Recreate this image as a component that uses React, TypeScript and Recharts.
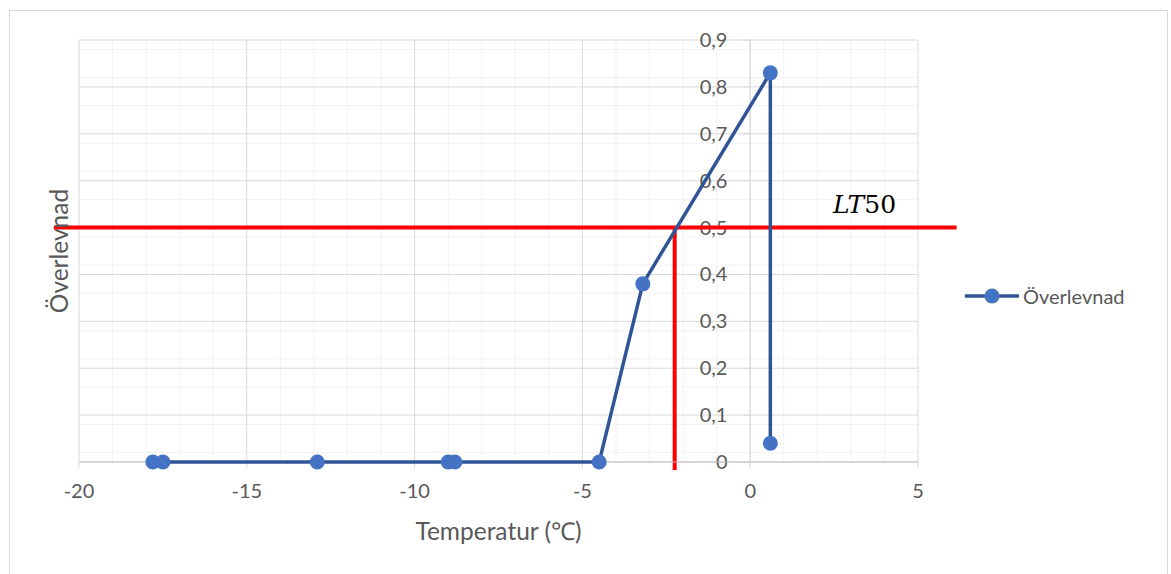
import React from "react";
import {
  CartesianGrid,
  ReferenceLine,
  Scatter,
  ScatterChart,
  XAxis,
  YAxis,
} from "recharts";

// measured values (temperature in °C, survival fraction)
const temperatures = [-17.8, -17.5, -12.9, -9.0, -8.8, -4.5, -3.2, 0.6, 0.6];
const survival = [0, 0, 0, 0, 0, 0, 0.38, 0.83, 0.04];

const xTicks = [-20, -15, -10, -5, 0, 5];
const yTicks = [0, 0.1, 0.2, 0.3, 0.4, 0.5, 0.6, 0.7, 0.8, 0.9];
const xMinor = [-19, -18, -17, -16, -14, -13, -12, -11, -9, -8, -7, -6, -4, -3, -2, -1, 1, 2, 3, 4];
const yMinor = [
  0.02, 0.04, 0.06, 0.08, 0.12, 0.14, 0.16, 0.18, 0.22, 0.24, 0.26, 0.28,
  0.32, 0.34, 0.36, 0.38, 0.42, 0.44, 0.46, 0.48, 0.52, 0.54, 0.56, 0.58,
  0.62, 0.64, 0.66, 0.68, 0.72, 0.74, 0.76, 0.78, 0.82, 0.84, 0.86, 0.88,
];

const lt50Temp = -2.25;
const lt50Level = 0.5;
const lt50LineFrom = -20.75;
const lt50LineTo = 6.15;

const X_MIN = -20;
const X_MAX = 5;
const WIDTH = 1171;
const HEIGHT = 574;
const margin = { top: 40, right: 253, bottom: 72, left: 78 };

const data = temperatures.map((t, i) => ({ temp: t, value: survival[i] }));

const font = "Lato, 'Liberation Sans', sans-serif";
const grey = "#595959";

const fmtY = (v: number) => (v === 0 ? "0" : v.toFixed(1).replace(".", ","));

// the value axis crosses at x = 0: short tick segments with their labels
const tickStub = 0.2;

const YTickLabel = (props: any) => {
  const { viewBox, value } = props;
  return (
    <text
      x={viewBox.x - 16}
      y={viewBox.y}
      dy={7}
      textAnchor="end"
      fill={grey}
      fontSize={20}
      fontFamily={font}
    >
      {value}
    </text>
  );
};

const NoTick = () => <g />;

const YTitle = (props: any) => {
  const { viewBox } = props;
  const cx = viewBox.x - 10;
  const cy = viewBox.y + viewBox.height / 2;
  return (
    <text
      x={cx}
      y={cy}
      transform={`rotate(-90 ${cx} ${cy})`}
      textAnchor="middle"
      fill={grey}
      fontSize={24.5}
      fontFamily={font}
    >
      Överlevnad
    </text>
  );
};

const Dot = (props: any) => (
  <circle cx={props.cx} cy={props.cy} r={7.5} fill="#4472c4" />
);

export default function App() {
  return (
    <div
      style={{
        position: "absolute",
        left: 0,
        top: 0,
        width: WIDTH,
        height: HEIGHT,
        overflow: "hidden",
        background: "#fff",
      }}
    >
      <div
        style={{
          position: "absolute",
          left: 9,
          top: 10,
          width: 1157,
          height: 600,
          border: "1px solid #d9d9d9",
        }}
      />
      <ScatterChart width={WIDTH} height={HEIGHT} margin={margin}>
        <CartesianGrid
          stroke="#f2f2f2"
          strokeWidth={1}
          verticalValues={xMinor}
          horizontalValues={yMinor}
        />
        <CartesianGrid
          stroke="#d9d9d9"
          strokeWidth={1}
          verticalValues={xTicks}
          horizontalValues={yTicks}
        />
        <XAxis
          type="number"
          dataKey="temp"
          domain={[X_MIN, X_MAX]}
          ticks={xTicks}
          height={40}
          axisLine={{ stroke: "#bfbfbf" }}
          tickLine={{ stroke: "#d9d9d9" }}
          tickSize={6}
          tickMargin={16}
          tick={{ fill: grey, fontSize: 20, fontFamily: font }}
          label={{
            value: "Temperatur (℃)",
            position: "bottom",
            offset: 21,
            fill: grey,
            fontSize: 24.5,
            fontFamily: font,
          }}
        />
        <YAxis
          type="number"
          dataKey="value"
          domain={[0, 0.9]}
          ticks={yTicks}
          width={1}
          axisLine={false}
          tickLine={false}
          tick={<NoTick />}
          label={<YTitle />}
        />
        <ReferenceLine x={0} stroke="#d9d9d9" strokeWidth={1} />
        {yTicks.map((v) => (
          <ReferenceLine
            key={v}
            segment={[
              { x: -tickStub, y: v },
              { x: 0, y: v },
            ]}
            stroke="#d9d9d9"
            strokeWidth={1}
            ifOverflow="visible"
            label={<YTickLabel value={fmtY(v)} />}
          />
        ))}
        <Scatter
          data={data}
          line={{ stroke: "#2f5597", strokeWidth: 3.5 }}
          shape={<Dot />}
          isAnimationActive={false}
        />
        <ReferenceLine
          segment={[
            { x: lt50LineFrom, y: lt50Level },
            { x: lt50LineTo, y: lt50Level },
          ]}
          stroke="#ff0000"
          strokeWidth={4}
          ifOverflow="visible"
        />
        <ReferenceLine
          segment={[
            { x: lt50Temp, y: -0.017 },
            { x: lt50Temp, y: lt50Level },
          ]}
          stroke="#ff0000"
          strokeWidth={4}
          ifOverflow="visible"
        />
      </ScatterChart>
      <div
        style={{
          position: "absolute",
          left: 833,
          top: 190,
          fontFamily: "'DejaVu Serif', serif",
          fontSize: 25,
          color: "#000",
          whiteSpace: "nowrap",
        }}
      >
        <span style={{ fontStyle: "italic" }}>LT</span>50
      </div>
      <div
        style={{
          position: "absolute",
          left: 964,
          top: 282,
          display: "flex",
          alignItems: "center",
          fontFamily: font,
          fontSize: 20,
          color: grey,
          whiteSpace: "nowrap",
        }}
      >
        <svg width={56} height={28}>
          <line x1={1} x2={55} y1={14} y2={14} stroke="#2f5597" strokeWidth={3.5} />
          <circle cx={28} cy={14} r={7.5} fill="#4472c4" />
        </svg>
        <span style={{ marginLeft: 3 }}>Överlevnad</span>
      </div>
    </div>
  );
}
